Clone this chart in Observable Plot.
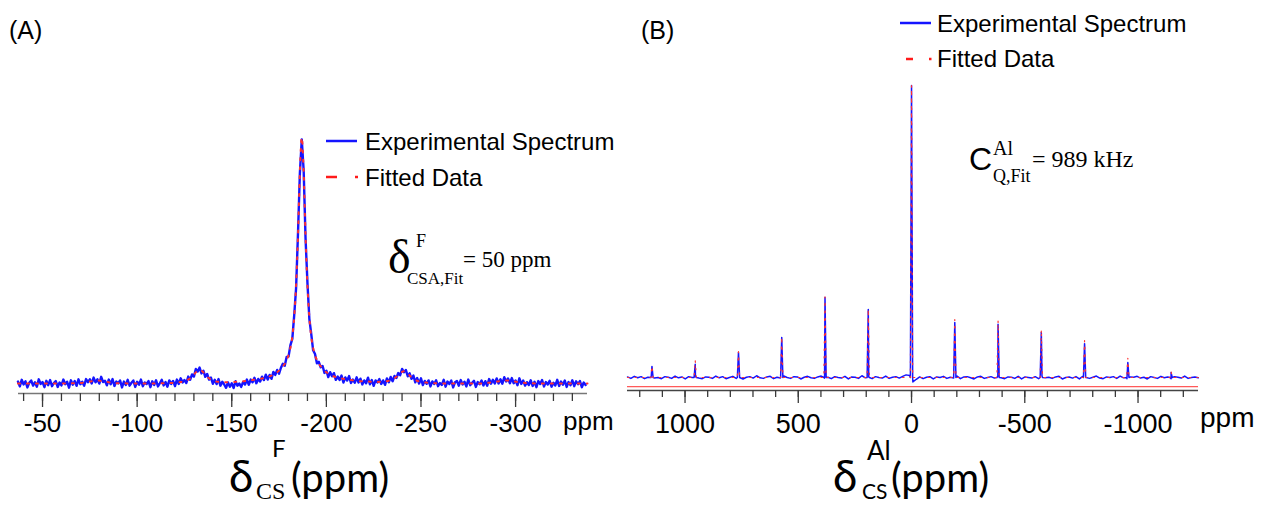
<!DOCTYPE html>
<html><head><meta charset="utf-8">
<script src="https://cdn.jsdelivr.net/npm/d3@7"></script>
<script src="https://cdn.jsdelivr.net/npm/@observablehq/plot@0.6"></script>
<style>
body{margin:0;background:#fff;}
#wrap{position:relative;width:1265px;height:506px;overflow:hidden;font-family:"Liberation Sans",Arial,sans-serif;}
.abs{position:absolute;top:0;}
</style></head><body><div id="wrap"></div>
<script>
// ---------- Panel A: 19F spectrum (ppm, relative intensity) ----------
const expAStart = -37, expAStep = -1;   // uniform sampling grid of the experimental spectrum
const expAValues = [
 0.8,-1.2,1.5,-0.4,0.9,-1.6,0.3,1.2,-0.9,0.5,
 -1.3,1.7,-0.2,0.6,-1.5,1.1,-0.7,1.4,-1.1,0.2,
 1.0,-1.4,0.4,-0.8,1.6,-0.3,0.7,-1.7,1.3,-0.5,
 1.0,-0.95,1.7,-0.3,0.7,-0.9,1.8,0.55,1.7,0.0,
 2.4,0.45,1.7,-0.05,2.7,0.6,1.1,-0.75,1.6,-0.3,
 1.8,-1.0,0.8,0.05,1.2,-1.6,0.8,-0.6,1.5,-0.9,
 0.3,1.2,-1.4,0.7,-0.5,1.6,-1.1,0.4,-0.2,1.0,
 -1.5,0.9,-0.6,1.3,-1.2,0.1,1.5,-0.8,0.6,-1.3,
 1.25,-0.2,1.05,-1.1,1.6,-0.2,2.1,0.45,1.4,0.2,
 2.8,1.5,3.7,2.8,5.9,4.9,6.5,4.1,5.2,2.7,
 3.9,1.6,2.4,-0.1,1.5,-0.25,1.8,-0.9,0.7,-0.4,
 -1.75,0.45,-1.35,0.1,-1.85,0.9,-0.9,-0.05,-1.4,0.65,
 -0.4,1.6,-0.5,1.6,0.5,2.3,0.1,1.85,0.8,2.75,
 1.4,3.6,1.6,3.5,1.9,4.7,3.5,5.5,4.0,6.4,
 8.0,7.2,10.8,10.9,15.6,18.1,27.7,38.8,61.0,85.5,
 99.2,
 86.6,58.9,40.9,26.3,20.2,13.5,12.0,8.2,8.8,6.6,
 7.1,4.3,5.2,2.6,4.6,2.9,4.2,1.5,2.8,1.4,
 3.25,0.4,2.45,1.2,3.0,0.2,1.6,0.3,2.5,0.4,
 1.95,-0.4,1.25,0.1,2.35,-0.3,1.4,-0.95,1.25,0.4,
 1.8,-0.2,1.25,-0.55,2.05,0.5,2.65,0.9,3.05,2.25,
 4.25,3.35,5.9,4.6,5.5,2.95,4.15,1.9,3.2,0.45,
 2.2,0.0,2.1,-0.65,1.05,-0.15,1.25,-1.2,0.85,-0.2,
 1.3,-1.1,0.2,-0.6,1.5,-1.3,0.8,-0.2,1.2,-1.6,
 0.5,1.0,-0.9,1.4,-0.4,0.7,-1.2,1.6,-0.7,0.3,
 1.1,-1.4,0.6,-0.3,1.2,-0.8,0.95,-0.9,1.8,-0.1,
 1.5,0.0,2.05,0.0,1.7,-0.1,2.55,0.8,2.05,0.1,
 2.2,0.1,1.25,-0.7,2.1,-0.2,1.2,-0.9,0.55,-0.6,
 1.3,-1.0,0.7,-1.5,1.0,-0.2,1.4,-1.2,0.6,-0.4,
 1.1,-1.3,0.3,-0.8,1.5,-1.0,0.8,-0.5,1.2,-1.4,
 0.6,-0.7,1.3,-1.1,0.9,-0.3,1.0,-1.5,0.4,-0.6
];
const fitAPpm = [-37,-60,-67,-70,-73,-76,-79,-82,-85,-88,-91,-100,-112,-118,-121,-123,-125,-126,-127,-128,-129,-130,-131,-132,-133,-134,-135,-136,-137,-138,-139,-140,-141,-143,-146,-150,-155,-160,-165,-167,-170,-172,-174,-176,-177,-178,-179,-180,-181,-182,-183,-184,-185,-186,-187,-188,-189,-190,-191,-192,-193,-194,-195,-196,-197,-199,-201,-203,-205,-207,-210,-213,-217,-222,-226,-229,-231,-233,-234,-235,-236,-237,-238,-239,-240,-241,-242,-243,-244,-245,-246,-247,-248,-250,-253,-256,-262,-280,-283,-286,-289,-292,-295,-298,-301,-304,-307,-315,-338];
const fitAValues = [0,0.02,0.1,0.2,0.5,0.9,1.2,0.9,0.5,0.2,0.1,0,0.05,0.2,0.4,0.6,0.9,1.2,1.6,2.1,2.8,3.6,4.5,5.2,5.5,5.2,4.5,3.6,2.8,2.1,1.6,1.2,0.9,0.65,0.5,0.6,0.8,1.3,1.9,2.2,2.9,3.6,4.6,6.0,7.0,8.0,9.5,11.5,14.5,19,27,40,60,86,100,86,60,40,27,19,14.5,11.5,9.5,8.0,7.0,5.2,4.0,3.2,2.6,2.2,1.75,1.4,1.0,0.8,0.6,0.7,0.85,1.1,1.35,1.7,2.15,2.75,3.25,4.05,4.7,5.0,4.7,4.05,3.25,2.5,1.9,1.45,1.1,0.68,0.36,0.15,0.03,0,0.1,0.3,0.6,1.0,1.2,1.0,0.6,0.3,0.1,0,0];
const xDomainA = [-37.3, -338];
const yDomainA = [-4.07, 100];
const majorTicksA = [-50, -100, -150, -200, -250, -300];
const minorTicksA = d3.range(-40, -331, -10);

// ---------- Panel B: 27Al spectrum ----------
const baseBStart = 1254, baseBStep = -15;   // uniform sampling grid of the baseline
const baseBValues = [
 0.2,-0.3,0.4,-0.1,0.3,-0.4,0.1,0.5,-0.2,0.0,
 -0.4,0.3,0.1,-0.3,0.5,-0.1,0.2,-0.5,0.3,0.0,
 0.4,-0.2,-0.4,0.2,0.1,-0.3,0.5,-0.1,0.3,-0.4,
 0.0,0.4,-0.3,0.2,-0.5,0.1,0.3,-0.2,0.6,-0.1,
 -0.3,0.2,0.4,-0.4,0.1,-0.2,0.5,0.0,-0.3,0.3,
 0.2,-0.5,0.1,0.4,-0.1,-0.3,0.2,0.5,-0.2,0.1,
 -0.4,0.3,0.0,-0.2,0.4,-0.5,0.2,0.1,-0.3,0.6,
 -0.1,0.2,-0.4,0.3,0.0,-0.2,0.5,-0.3,0.1,0.3,
 -0.2,0.4,0.9,0.7,-1.5,-0.6,0.2,-0.4,0.1,0.3,
 -0.5,0.2,0.0,0.4,-0.3,0.1,-0.2,0.5,-0.4,0.2,
 0.3,-0.1,-0.5,0.2,0.4,-0.3,0.0,0.3,-0.2,0.5,
 -0.1,-0.4,0.2,0.1,-0.3,0.4,-0.5,0.2,0.0,-0.2,
 0.3,-0.4,0.5,-0.1,0.1,-0.3,0.2,0.4,-0.5,0.0,
 0.2,-0.2,0.3,-0.5,0.4,0.0,-0.3,0.1,0.5,-0.2,
 -0.4,0.2,0.0,0.3,-0.3,0.5,-0.1,-0.4,0.2,0.1,
 0.4,-0.2,0.1,-0.5,0.3,0.0,-0.3,0.4,-0.1,0.2,
 -0.4,0.3,0.1,-0.2,0.5,-0.3,0.0,0.2,-0.1
];
const peakPpmB = [1146, 955, 764, 573, 382, 191, 0, -191, -382, -573, -764, -955, -1146];
const peakExpB = [3.8, 4.5, 8.6, 13.7, 27.4, 23.3, 100, 18.8, 18.2, 15.4, 11.6, 5.1, 1.7];
const peakFitB = [3.9, 5.9, 8.9, 13.9, 27.6, 23.4, 100, 19.8, 19.6, 16.4, 12.6, 6.6, 2.0];
const peakHalfWidthB = 5;
const xDomainB = [1254, -1267];
const yDomainB = [-4.45, 100];
const redRuleB = [-3.1];
const majorTicksB = [1000, 500, 0, -500, -1000];
const minorTicksB = d3.range(1200, -1201, -100);

// ---------- build tables ----------
const expA = expAValues.map((v, i) => ({ppm: expAStart + i * expAStep, intensity: v}));
const fitA = fitAPpm.map((p, i) => ({ppm: p, intensity: fitAValues[i]}));
const peakPoints = (h) => peakPpmB.flatMap((p, i) => [
  {ppm: p + peakHalfWidthB, intensity: 0}, {ppm: p, intensity: h[i]}, {ppm: p - peakHalfWidthB, intensity: 0}]);
const expB = baseBValues.map((v, j) => ({ppm: baseBStart + j * baseBStep, intensity: v}))
  .concat(peakPoints(peakExpB)).sort((a, b) => b.ppm - a.ppm);
const fitB = [{ppm: xDomainB[0], intensity: 0}, ...peakPoints(peakFitB), {ppm: xDomainB[1], intensity: 0}]
  .sort((a, b) => b.ppm - a.ppm);

const BLUE = "#1414ff", RED = "#ff1a1a", TICK = "#3a3a3a";
const fmt = d => String(d);

const plotA = Plot.plot({
  width: 620, height: 506,
  marginLeft: 18, marginRight: 33, marginTop: 137, marginBottom: 113,
  style: {fontFamily: "Liberation Sans, Arial, sans-serif", fontSize: "26px", background: "transparent", overflow: "visible"},
  x: {domain: xDomainA, label: null},
  y: {domain: yDomainA, axis: null},
  marks: [
    Plot.ruleY([yDomainA[0]], {stroke: "#777", strokeWidth: 1.5}),
    Plot.axisX(minorTicksA, {tickSize: 8, tickFormat: () => "", label: null, stroke: TICK, strokeWidth: 1.3}),
    Plot.axisX(majorTicksA, {tickSize: 14, tickPadding: 6, tickFormat: fmt, label: null, fontSize: 26, stroke: TICK, strokeWidth: 1.3}),
    Plot.line(expA, {x: "ppm", y: "intensity", stroke: BLUE, strokeWidth: 2.4}),
    Plot.line(fitA, {x: "ppm", y: "intensity", stroke: "#ff3030", strokeWidth: 2, strokeDasharray: "2 7", curve: "monotone-x"})
  ]
});

const plotB = Plot.plot({
  width: 645, height: 506,
  marginLeft: 7, marginRight: 67, marginTop: 85, marginBottom: 116,
  style: {fontFamily: "Liberation Sans, Arial, sans-serif", fontSize: "27px", background: "transparent", overflow: "visible"},
  x: {domain: xDomainB, label: null},
  y: {domain: yDomainB, axis: null},
  marks: [
    Plot.ruleY(redRuleB, {stroke: "#ff5a5a", strokeWidth: 1.2}),
    Plot.ruleY([yDomainB[0]], {stroke: "#444", strokeWidth: 1.5}),
    Plot.axisX(minorTicksB, {tickSize: 7, tickFormat: () => "", label: null, stroke: TICK, strokeWidth: 1.3}),
    Plot.axisX(majorTicksB, {tickSize: 13, tickPadding: 10, tickFormat: fmt, label: null, fontSize: 27, stroke: TICK, strokeWidth: 1.3}),
    Plot.line(expB, {x: "ppm", y: "intensity", stroke: BLUE, strokeWidth: 1.5}),
    Plot.line(fitB, {x: "ppm", y: "intensity", stroke: "#ff3030", strokeWidth: 1.2, strokeDasharray: "1.5 6"})
  ]
});

const wrap = document.getElementById("wrap");
const boxA = document.createElement("div"); boxA.className = "abs"; boxA.style.left = "0px"; boxA.appendChild(plotA);
const boxB = document.createElement("div"); boxB.className = "abs"; boxB.style.left = "620px"; boxB.appendChild(plotB);
wrap.appendChild(boxA); wrap.appendChild(boxB);

// ---------- overlay: panel labels, legends, annotations, axis titles ----------
const SANS = "Liberation Sans, Arial, sans-serif", SERIF = "Liberation Serif, Times New Roman, serif", HUM = "Lato, Liberation Sans, sans-serif";
const ov = d3.create("svg").attr("width", 1265).attr("height", 506)
  .style("position", "absolute").style("left", "0px").style("top", "0px").style("pointer-events", "none");
function t(x, y, s, size, fam) {
  ov.append("text").attr("x", x).attr("y", y).attr("font-size", size).attr("font-family", fam).attr("fill", "#000").text(s);
}
function seg(x1, x2, y, color, w) {
  ov.append("line").attr("x1", x1).attr("x2", x2).attr("y1", y).attr("y2", y).attr("stroke", color).attr("stroke-width", w);
}
// panel letters
t(9, 39, "(A)", 25, SANS);
t(641, 39, "(B)", 25, SANS);
// legend A
seg(326, 357, 141, BLUE, 2.5); t(365, 149.5, "Experimental Spectrum", 24, SANS);
seg(326, 337, 177, RED, 2.5); seg(355, 358, 177, RED, 2.5); t(365, 185.5, "Fitted Data", 24, SANS);
// legend B
seg(900, 931, 23, BLUE, 2.5); t(937, 31.5, "Experimental Spectrum", 24, SANS);
seg(906, 913, 59, RED, 2.5); seg(929, 931.5, 59, RED, 2.5); t(937, 67, "Fitted Data", 24, SANS);
// annotation A
t(388, 273, "δ", 48, SERIF); t(416, 247, "F", 18, SERIF); t(407, 284, "CSA,Fit", 17, SERIF); t(463, 267, "= 50 ppm", 23, SERIF);
// annotation B
t(969, 170, "C", 32, SANS); t(993, 155, "Al", 20, SERIF); t(993, 182, "Q,Fit", 18, SERIF); t(1032, 167, "= 989 kHz", 24, SERIF);
// axis unit labels
t(563, 430, "ppm", 26, SANS);
t(1200, 427, "ppm", 28, SANS);
// axis titles
t(229, 492, "δ", 44, HUM); t(272, 457, "F", 24, HUM); t(256, 499, "CS", 24, SERIF); t(291, 492, "(ppm)", 40, HUM);
t(833, 492, "δ", 44, HUM); t(867, 460, "Al", 26, HUM); t(862, 499, "CS", 21, HUM); t(891, 492, "(ppm)", 40, HUM);
wrap.appendChild(ov.node());
</script>
</body></html>
